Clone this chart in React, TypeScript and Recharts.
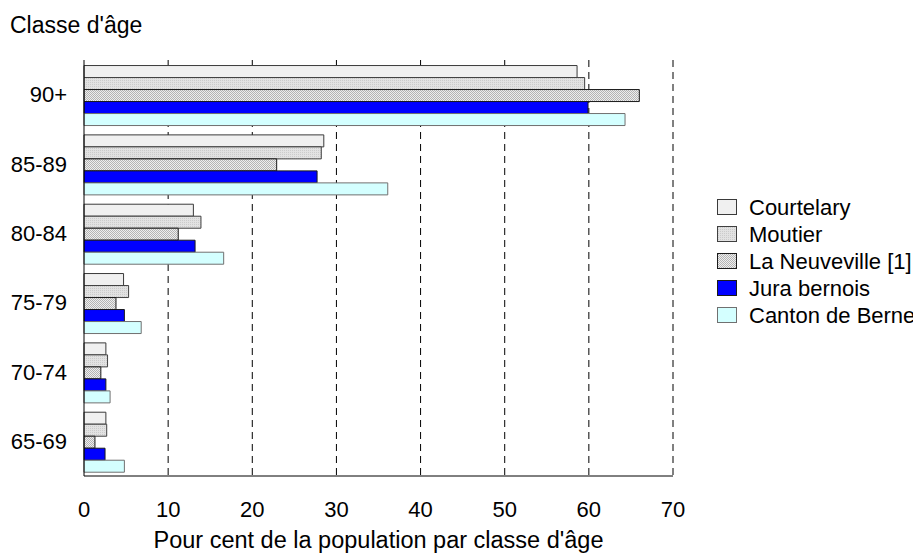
import { BarChart, Bar, XAxis, YAxis, CartesianGrid } from "recharts";

const ageClasses = ["90+", "85-89", "80-84", "75-79", "70-74", "65-69"];
const courtelary = [58.6, 28.5, 13.0, 4.7, 2.6, 2.6];
const moutier = [59.5, 28.2, 13.9, 5.3, 2.8, 2.7];
const laNeuveville = [66.0, 22.9, 11.2, 3.8, 2.0, 1.3];
const juraBernois = [59.9, 27.7, 13.2, 4.8, 2.6, 2.5];
const cantonBerne = [64.3, 36.1, 16.6, 6.8, 3.1, 4.8];
const xTicks = [0, 10, 20, 30, 40, 50, 60, 70];

const FONT = "'Liberation Sans', Arial, sans-serif";

const series = [
  { key: "courtelary", name: "Courtelary", fill: "#f0f0f0", stroke: "#3a3a3a" },
  { key: "moutier", name: "Moutier", fill: "url(#patMoutier)", stroke: "#404040" },
  { key: "laNeuveville", name: "La Neuveville [1]", fill: "url(#patNeuve)", stroke: "#1a1a1a" },
  { key: "juraBernois", name: "Jura bernois", fill: "#0000ff", stroke: "#1a1a1a" },
  { key: "cantonBerne", name: "Canton de Berne", fill: "#d4ffff", stroke: "#707070" },
];

const data = ageClasses.map((age, i) => ({
  age,
  courtelary: courtelary[i],
  moutier: moutier[i],
  laNeuveville: laNeuveville[i],
  juraBernois: juraBernois[i],
  cantonBerne: cantonBerne[i],
}));

function Patterns() {
  return (
    <defs>
      <pattern id="patMoutier" width="2" height="2" patternUnits="userSpaceOnUse">
        <rect width="2" height="2" fill="#e2e2e2" />
        <rect x="0" y="0" width="1" height="1" fill="#cbcbcb" />
      </pattern>
      <pattern id="patNeuve" width="2" height="2" patternUnits="userSpaceOnUse">
        <rect width="2" height="2" fill="#eeeeee" />
        <rect x="0" y="0" width="1" height="1" fill="#b4b4b4" />
        <rect x="1" y="1" width="1" height="1" fill="#b4b4b4" />
      </pattern>
    </defs>
  );
}

export default function App() {
  return (
    <div style={{ position: "relative", width: 905, height: 546, fontFamily: FONT }}>
      <div
        style={{
          position: "absolute",
          left: 2,
          top: 6,
          fontSize: 23,
          lineHeight: 1,
          color: "#000",
          whiteSpace: "nowrap",
        }}
      >
        Classe d'âge
      </div>

      <BarChart
        width={905}
        height={546}
        data={data}
        layout="vertical"
        margin={{ top: 52, right: 240, bottom: 38, left: 0 }}
        barCategoryGap="8%"
        barGap={0}
      >
        <Patterns />
        <CartesianGrid
          horizontal={false}
          stroke="#000"
          strokeDasharray="7 5"
          verticalValues={xTicks.slice(1)}
        />
        <XAxis
          type="number"
          domain={[0, 70]}
          ticks={xTicks}
          height={40}
          tickLine={false}
          tickSize={0}
          tickMargin={25}
          axisLine={{ stroke: "#000" }}
          tick={{ fill: "#000", fontSize: 22, fontFamily: FONT }}
          label={{
            value: "Pour cent de la population par classe d'âge",
            position: "bottom",
            offset: 15,
            fill: "#000",
            fontSize: 23.5,
            fontFamily: FONT,
          }}
        />
        <YAxis
          type="category"
          dataKey="age"
          width={76}
          tickLine={false}
          tickSize={0}
          tickMargin={17}
          axisLine={{ stroke: "#000" }}
          tick={{ fill: "#000", fontSize: 22, fontFamily: FONT }}
        />
        {series.map((s) => (
          <Bar
            key={s.key}
            dataKey={s.key}
            name={s.name}
            fill={s.fill}
            stroke={s.stroke}
            strokeWidth={1}
            isAnimationActive={false}
          />
        ))}
      </BarChart>

      <svg
        width={230}
        height={140}
        style={{ position: "absolute", left: 704, top: 186, overflow: "visible" }}
      >
        {series.map((s, i) => (
          <g key={s.key} transform={`translate(0, ${i * 27})`}>
            <rect x={5.5} y={5.5} width={19} height={15} fill={s.fill} stroke={s.stroke} />
            <text x={37} y={21} fontSize={22} fontFamily={FONT} fill="#000">
              {s.name}
            </text>
          </g>
        ))}
      </svg>
    </div>
  );
}
